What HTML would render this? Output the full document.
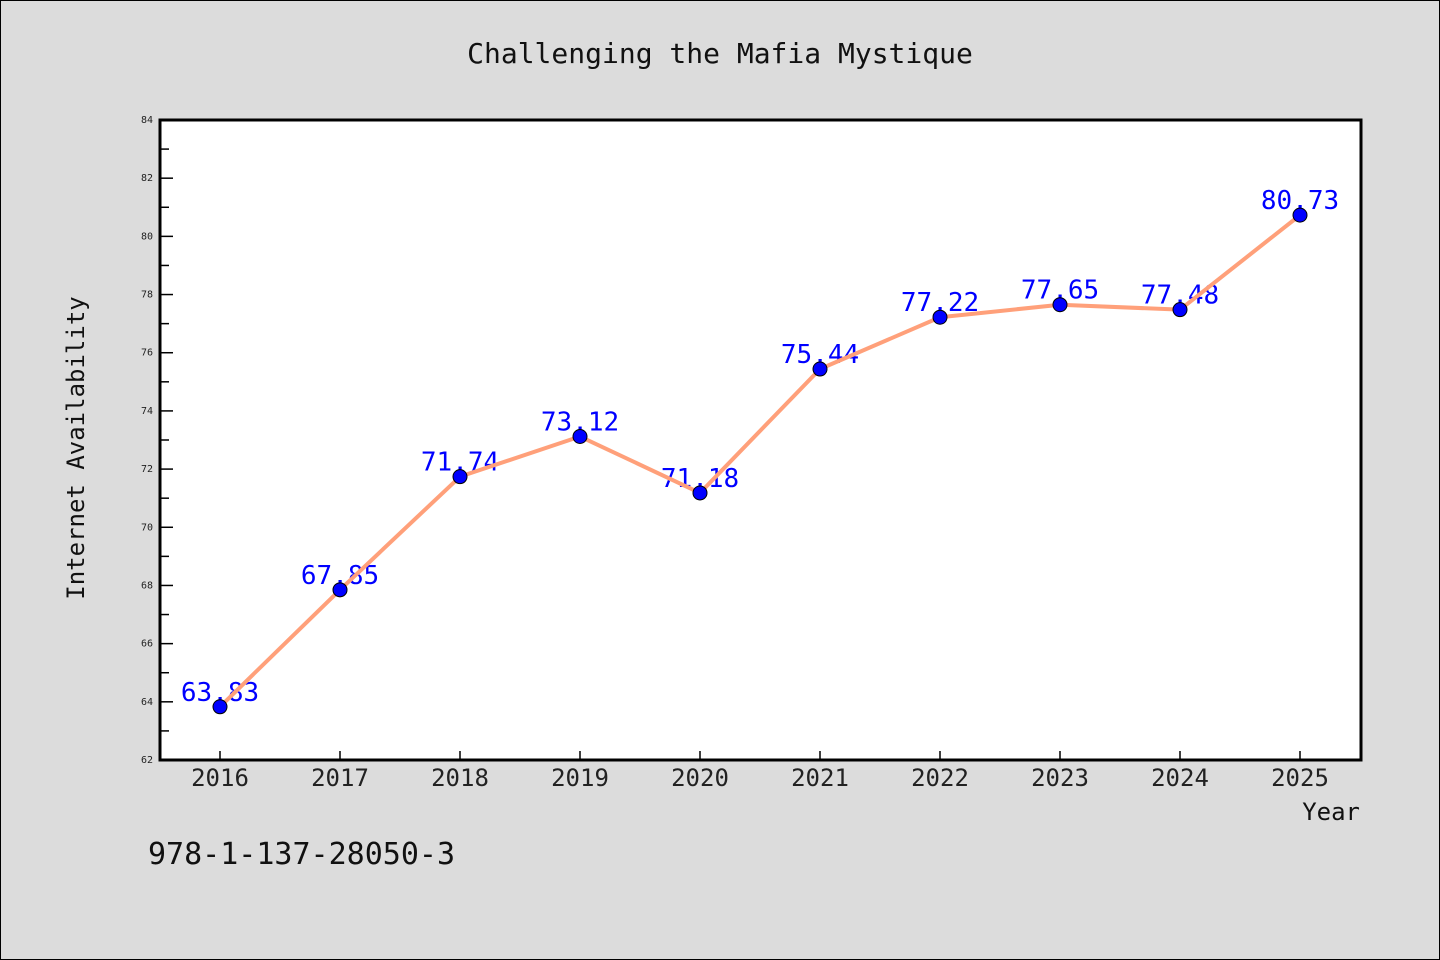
<!DOCTYPE html>
<html><head><meta charset="utf-8"><style>
html,body{margin:0;padding:0;background:#dcdcdc;}
svg{display:block;font-family:"WenQuanYi Zen Hei Mono","WenQuanYi Zen Hei","DejaVu Sans Mono",monospace;}
</style></head><body>
<svg id="chart" width="1440" height="960" xmlns="http://www.w3.org/2000/svg">
<rect x="0.5" y="0.5" width="1439" height="959" fill="#dcdcdc" stroke="#000"/>
<text x="720" y="63" text-anchor="middle" font-size="28" fill="#111">Challenging the Mafia Mystique</text>
<rect x="160" y="120" width="1201" height="640" fill="#fff"/>
<g id="axes"></g>
<g id="marks"></g>
<rect x="160" y="120" width="1201" height="640" fill="none" stroke="#000" stroke-width="3"/>
<text x="1360" y="820" text-anchor="end" font-size="24" fill="#111">Year</text>
<text transform="translate(84,448) rotate(-90)" text-anchor="middle" font-size="24" fill="#111">Internet Availability</text>
<text x="148" y="864" font-size="30" fill="#111">978-1-137-28050-3</text>
</svg>
<script>
const years = ["2016","2017","2018","2019","2020","2021","2022","2023","2024","2025"];
const values = [63.83,67.85,71.74,73.12,71.18,75.44,77.22,77.65,77.48,80.73];
const valueLabels = ["63,83","67,85","71,74","73,12","71,18","75,44","77,22","77,65","77,48","80,73"];
const yTicks = [62,64,66,68,70,72,74,76,78,80,82,84];
(function(){
const NS="http://www.w3.org/2000/svg";
const yMin=62,yMax=84,plotTop=120,plotBot=760;
const xs=i=>220+i*120;
const ys=v=>plotBot-(v-yMin)/(yMax-yMin)*(plotBot-plotTop);
function mk(tag,attrs,parent){const e=document.createElementNS(NS,tag);for(const k in attrs)e.setAttribute(k,attrs[k]);parent.appendChild(e);return e;}
const axes=document.getElementById('axes'),marks=document.getElementById('marks');
yTicks.forEach((t,i)=>{
  const y=ys(t);
  const tk=mk('line',{x1:160,x2:173,y1:y,y2:y,stroke:'#000','stroke-width':1.5},axes);
  
  
  const lb=mk('text',{x:153,y:y+3,'text-anchor':'end','font-size':10,fill:'#222'},axes);
  lb.textContent=t;
  
  
  if(i<yTicks.length-1){
    const ym=ys(t+1);
    const mt=mk('line',{x1:160,x2:169,y1:ym,y2:ym,stroke:'#000','stroke-width':1.5},axes);
    
    
  }
});
years.forEach((yr,i)=>{
  const x=xs(i);
  const tk=mk('line',{x1:x,x2:x,y1:plotBot-9,y2:plotBot,stroke:'#000','stroke-width':1.5},axes);
  
  
  const lb=mk('text',{x:x,y:786,'text-anchor':'middle','font-size':24,fill:'#222'},axes);
  lb.textContent=yr;
  
  
});
values.forEach((v,i)=>{
  const lb=mk('text',{x:xs(i),y:ys(v)-6,'text-anchor':'middle','font-size':26,fill:'#0000ff'},marks);
  lb.textContent=valueLabels[i];
  
  
});
const line=mk('polyline',{points:values.map((v,i)=>xs(i)+','+ys(v)).join(' '),fill:'none',stroke:'#ffa07a','stroke-width':4,'stroke-linejoin':'round'},marks);


values.forEach((v,i)=>{
  const c=mk('circle',{cx:xs(i),cy:ys(v),r:7,fill:'#0000ff',stroke:'#000','stroke-width':1},marks);
  
  
});
})();
</script>
</body></html>
